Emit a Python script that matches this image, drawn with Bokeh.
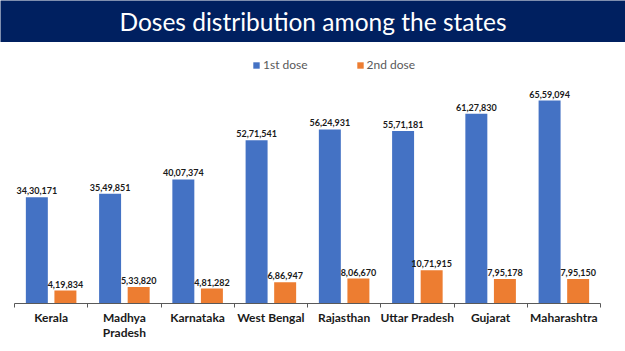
from bokeh.plotting import figure
from bokeh.models import (ColumnDataSource, FixedTicker, Legend, LegendItem,
                          Label, Range1d)
from bokeh.transform import dodge
from bokeh.layouts import column
from bokeh.embed import file_html
from bokeh.resources import INLINE
from bokeh.core.properties import value

# ---- data ----
states = ["Kerala", "Madhya\nPradesh", "Karnataka", "West Bengal",
          "Rajasthan", "Uttar Pradesh", "Gujarat", "Maharashtra"]
dose1 = [3430171, 3549851, 4007374, 5271541, 5624931, 5571181, 6127830, 6559094]
dose2 = [419834, 533820, 481282, 686947, 806670, 1071915, 795178, 795150]
series_names = ["1st dose", "2nd dose"]
title_text = "Doses distribution among the states"


def indian(n):
    s = str(n)
    last3, rest = s[-3:], s[:-3]
    groups = []
    while len(rest) > 2:
        groups.insert(0, rest[-2:])
        rest = rest[:-2]
    if rest:
        groups.insert(0, rest)
    return ",".join(groups + [last3])


n = len(states)
xpos = [i + 0.5 for i in range(n)]
src = ColumnDataSource(dict(
    x=xpos, d1=dose1, d2=dose2,
    l1=[indian(v) for v in dose1], l2=[indian(v) for v in dose2]))

BLUE = "#4472C4"
ORANGE = "#ED7D31"
NAVY = "#002060"

W = 625
LEFT_PAD, RIGHT_PAD = 14, 25
unit = (W - LEFT_PAD - RIGHT_PAD) / n


def band(height, color):
    f = figure(width=W, height=height, x_range=Range1d(0, W),
               y_range=Range1d(0, height), toolbar_location=None,
               output_backend="svg", min_border_left=0, min_border_right=0,
               min_border_top=0, min_border_bottom=0,
               x_axis_location=None, y_axis_location=None)
    f.background_fill_color = color
    f.border_fill_color = color
    f.outline_line_color = None
    f.xgrid.visible = False
    f.ygrid.visible = False
    return f


# ---- header ----
hdr = band(42, NAVY)
hdr.add_layout(Label(x=W / 2, y=21, text=title_text, text_align="center",
                     text_baseline="middle", text_color="white",
                     text_font="Lato", text_font_size="24.5px"))
strip = band(2, "#F4B183")

# ---- main chart ----
p = figure(width=W, height=307,
           x_range=Range1d(-LEFT_PAD / unit, n + RIGHT_PAD / unit),
           y_range=Range1d(0, 8078000), toolbar_location=None, output_backend="svg",
           min_border_left=0, min_border_right=0, min_border_top=9,
           min_border_bottom=48, y_axis_location=None)
p.outline_line_color = None
p.xgrid.visible = False
p.ygrid.visible = False

r1 = p.vbar(x=dodge("x", -0.195, range=p.x_range), top="d1", width=0.3,
            source=src, fill_color=BLUE, line_color=None)
r2 = p.vbar(x=dodge("x", 0.195, range=p.x_range), top="d2", width=0.3,
            source=src, fill_color=ORANGE, line_color=None)

for col, off in (("d1", -0.195), ("d2", 0.195)):
    p.text(x=dodge("x", off, range=p.x_range), y=col, text="l" + col[1],
           source=src, text_align="center", text_baseline="bottom", y_offset=-3,
           text_font=value("Lato"), text_font_style="bold",
           text_font_size="9px", text_color="#1a1a1a")

ax = p.xaxis[0]
ax.bounds = (0, n)
ax.ticker = FixedTicker(ticks=xpos, minor_ticks=list(range(n + 1)))
ax.major_label_overrides = {x: s for x, s in zip(xpos, states)}
ax.major_tick_line_color = None
ax.major_tick_in = 0
ax.major_tick_out = 0
ax.minor_tick_in = 0
ax.minor_tick_out = 4
ax.minor_tick_line_color = "#595959"
ax.axis_line_color = "#595959"
ax.major_label_standoff = 2
ax.major_label_text_font = "Lato"
ax.major_label_text_font_style = "bold"
ax.major_label_text_font_size = "12px"
ax.major_label_text_line_height = 1.0
ax.major_label_text_color = "#1a1a1a"

legend = Legend(items=[LegendItem(label=series_names[0], renderers=[r1]),
                       LegendItem(label=series_names[1], renderers=[r2])],
                orientation="horizontal", location=(252, 231), padding=0, margin=0,
                spacing=48, glyph_width=8, glyph_height=8, label_height=8,
                label_standoff=3, label_text_font="Lato", label_text_font_size="12px",
                label_text_color="#595959", border_line_color=None,
                background_fill_alpha=0)
p.add_layout(legend)

layout = column(hdr, strip, p, spacing=0)
open("out.html", "w").write(file_html(layout, INLINE))
